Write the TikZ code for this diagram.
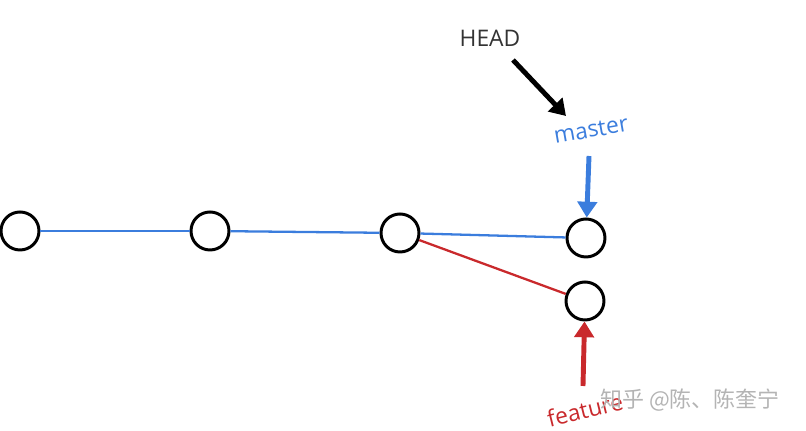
\documentclass[tikz,border=0pt]{standalone}
\usepackage{fontspec}
\setsansfont{Open Sans}
\newfontfamily\cjk{Noto Sans CJK SC}
\usepackage{xcolor}
\definecolor{gitblue}{HTML}{3B7DDD}
\definecolor{gitred}{HTML}{C9292C}
\definecolor{mark}{HTML}{B4B4B4}
\usetikzlibrary{arrows.meta, positioning}

\begin{document}
\begin{tikzpicture}[
  x=0.02cm, y=-0.02cm,
  commit/.style={draw, circle, line width=1.7pt, minimum size=0.76cm, inner sep=0pt},
  link/.style={line width=1.3pt},
  arr/.style={-{Triangle[length=9pt, width=11pt]}, line width=2.8pt},
  lbl/.style={font=\sffamily\fontsize{13}{15}\selectfont, inner sep=1pt}
]
\useasboundingbox (0,0) rectangle (806,431);

% commits
\node[commit] (c1) at (20,231) {};
\node[commit] (c2) at (210,231) {};
\node[commit] (c3) at (400,233) {};
\node[commit] (c4) at (586,238) {};
\node[commit] (c5) at (585,301) {};

% pointers
\node[lbl, text=black!80] (head) at (490,38) {HEAD};
\node[lbl, text=gitblue, rotate=10] (master) at (591,130) {master};
\node[lbl, text=gitred, rotate=14] (feature) at (585,410) {feature};
\coordinate (headend) at (566,116);
\coordinate (mtop) at (589,156);
\coordinate (fbot) at (583,386);

\draw[link, gitblue] (c1) -- (c2);
\draw[link, gitblue] (c2) -- (c3);
\draw[link, gitblue] (c3) -- (c4);
\draw[link, gitred] (c3) -- (c5);

\draw[arr, black] (513,60) -- (headend);
\draw[arr, gitblue] (mtop) -- (c4);
\draw[arr, gitred] (fbot) -- (c5);

% watermark
\node[text=mark, font=\cjk\fontsize{12.5}{14}\selectfont] (wm) at (690,400) {知乎 @陈、陈奎宁};
\end{tikzpicture}
\end{document}
